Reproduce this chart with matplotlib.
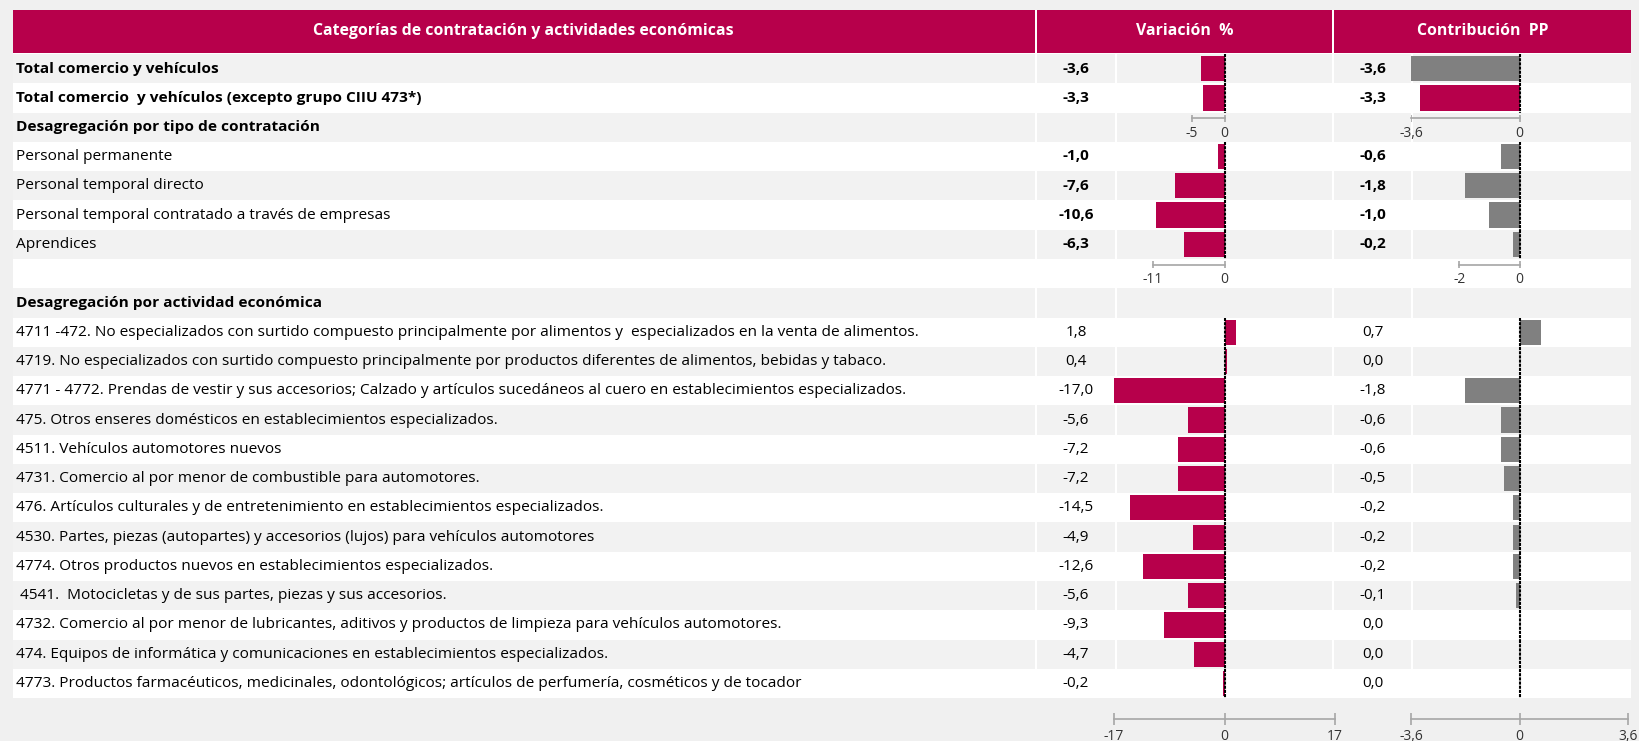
import matplotlib.pyplot as plt
from matplotlib.patches import Rectangle

plt.rcParams['font.family'] = ['Open Sans', 'DejaVu Sans']

labels = [
    "Total comercio y vehículos",
    "Total comercio  y vehículos (excepto grupo CIIU 473*)",
    "Desagregación por tipo de contratación",
    "Personal permanente",
    "Personal temporal directo",
    "Personal temporal contratado a través de empresas",
    "Aprendices",
    "",
    "Desagregación por actividad económica",
    "4711 -472. No especializados con surtido compuesto principalmente por alimentos y  especializados en la venta de alimentos.",
    "4719. No especializados con surtido compuesto principalmente por productos diferentes de alimentos, bebidas y tabaco.",
    "4771 - 4772. Prendas de vestir y sus accesorios; Calzado y artículos sucedáneos al cuero en establecimientos especializados.",
    "475. Otros enseres domésticos en establecimientos especializados.",
    "4511. Vehículos automotores nuevos",
    "4731. Comercio al por menor de combustible para automotores.",
    "476. Artículos culturales y de entretenimiento en establecimientos especializados.",
    "4530. Partes, piezas (autopartes) y accesorios (lujos) para vehículos automotores",
    "4774. Otros productos nuevos en establecimientos especializados.",
    " 4541.  Motocicletas y de sus partes, piezas y sus accesorios.",
    "4732. Comercio al por menor de lubricantes, aditivos y productos de limpieza para vehículos automotores.",
    "474. Equipos de informática y comunicaciones en establecimientos especializados.",
    "4773. Productos farmacéuticos, medicinales, odontológicos; artículos de perfumería, cosméticos y de tocador",
]
bold_labels = [0, 1, 2, 8]
bold_values = [0, 1, 3, 4, 5, 6]

variacion = [-3.6, -3.3, None, -1.0, -7.6, -10.6, -6.3, None, None,
             1.8, 0.4, -17.0, -5.6, -7.2, -7.2, -14.5, -4.9, -12.6, -5.6, -9.3, -4.7, -0.2]
contribucion = [-3.6, -3.3, None, -0.6, -1.8, -1.0, -0.2, None, None,
                0.7, 0.0, -1.8, -0.6, -0.6, -0.5, -0.2, -0.2, -0.2, -0.1, 0.0, 0.0, 0.0]

headers = ["Categorías de contratación y actividades económicas", "Variación  %", "Contribución  PP"]

var_ticks = [-17, 0, 17]
con_ticks = [-3.6, 0, 3.6]
# small range axes under each block
sec_rows = [2, 7]
sec_var = [(-5, 0), (-11, 0)]
sec_con = [(-3.6, 0), (-2, 0)]

CRIMSON = '#B7004B'
GREY_BAR = '#808080'
BG = '#F0F0F0'
ROW_GREY = '#F2F2F2'

con_colors = [GREY_BAR] * len(contribucion)
con_colors[1] = CRIMSON


def fmt(v):
    return f"{v:.1f}".replace('.', ',')


W, H = 1639, 741
N = len(labels)
HEAD_TOP, HEAD_BOT = 9.5, 52.5
TOP = 54.0
ROW_H = 29.28
BOT = TOP + N * ROW_H
LEFT, RIGHT = 12.5, 1631
# cell edges: label | var value | var bar | con value | con bar
cols = [(LEFT, 1035), (1037, 1115), (1117, 1332), (1334, 1411), (1413, RIGHT)]
head_cols = [(LEFT, 1035), (1037, 1332), (1334, RIGHT)]

fig = plt.figure(figsize=(W / 100, H / 100), dpi=100, facecolor=BG)
ax = fig.add_axes([0, 0, 1, 1])
ax.set_xlim(0, W)
ax.set_ylim(H, 0)
ax.axis('off')

ax.add_patch(Rectangle((LEFT, HEAD_TOP), RIGHT - LEFT, BOT - HEAD_TOP, color='white', lw=0))
for (x0, x1), h in zip(head_cols, headers):
    ax.add_patch(Rectangle((x0, HEAD_TOP), x1 - x0, HEAD_BOT - HEAD_TOP, color=CRIMSON, lw=0))
    ax.text((x0 + x1) / 2, (HEAD_TOP + HEAD_BOT) / 2, h, color='white', weight='bold',
            fontsize=11.4, ha='center', va='center')

for i in range(N):
    y0 = TOP + i * ROW_H
    yc = y0 + ROW_H / 2
    if i % 2 == 0:
        for x0, x1 in cols:
            ax.add_patch(Rectangle((x0, y0), x1 - x0, ROW_H, color=ROW_GREY, lw=0))
    ax.text(15.5, yc, labels[i], fontsize=11.1, color='black', va='center', ha='left',
            weight='bold' if i in bold_labels else 'normal')
    w = 'bold' if i in bold_values else 'normal'
    if variacion[i] is not None:
        ax.text((cols[1][0] + cols[1][1]) / 2, yc, fmt(variacion[i]), fontsize=11,
                color='black', ha='center', va='center', weight=w)
    if contribucion[i] is not None:
        ax.text((cols[3][0] + cols[3][1]) / 2, yc, fmt(contribucion[i]), fontsize=11,
                color='black', ha='center', va='center', weight=w)


def bar_axes(x0, x1, lim):
    a = fig.add_axes([x0 / W, 1 - BOT / H, (x1 - x0) / W, (BOT - TOP) / H])
    a.set_xlim(-lim, lim)
    a.set_ylim(N - 0.5, -0.5)
    a.patch.set_visible(False)
    for s in ['top', 'left', 'right']:
        a.spines[s].set_visible(False)
    a.spines['bottom'].set_position(('outward', 15))
    a.spines['bottom'].set_color('#A6A6A6')
    a.spines['bottom'].set_linewidth(1.2)
    a.set_yticks([])
    a.tick_params(axis='x', direction='inout', length=8, width=1.2, color='#A6A6A6',
                  labelsize=10, labelcolor='#333333', pad=3)
    return a


ax_var = bar_axes(1114, 1335, 17)
ax_con = bar_axes(1411, 1628, 3.6)
ax_var.set_xticks(var_ticks, [str(t) for t in var_ticks])
ax_con.set_xticks(con_ticks, [fmt(t) if t else '0' for t in con_ticks])

rows = [i for i in range(N) if variacion[i] is not None]
ax_var.barh(rows, [variacion[i] for i in rows], height=0.86, color=CRIMSON, zorder=2)
ax_con.barh(rows, [contribucion[i] for i in rows], height=0.86,
            color=[con_colors[i] for i in rows], zorder=2)

for a in (ax_var, ax_con):
    for i in rows:
        a.vlines(0, i - 0.5, i + 0.5, color='black', lw=1.5, linestyles=(0, (1.5, 0.5)), zorder=3)

# range markers in the section rows
for r, rv, rc in zip(sec_rows, sec_var, sec_con):
    for a, (lo, hi) in ((ax_var, rv), (ax_con, rc)):
        yl = r - 0.5 + 0.2
        a.plot([lo, hi], [yl, yl], color='#A6A6A6', lw=1.2, clip_on=False)
        a.vlines([lo, hi], yl - 0.12, yl + 0.12, color='#A6A6A6', lw=1.2)
        for v in (lo, hi):
            a.text(v, yl + 0.5, fmt(v) if v % 1 else str(int(v)), fontsize=10,
                   color='#333333', ha='center', va='center')

fig.savefig('out.png', dpi=100, facecolor=BG)
